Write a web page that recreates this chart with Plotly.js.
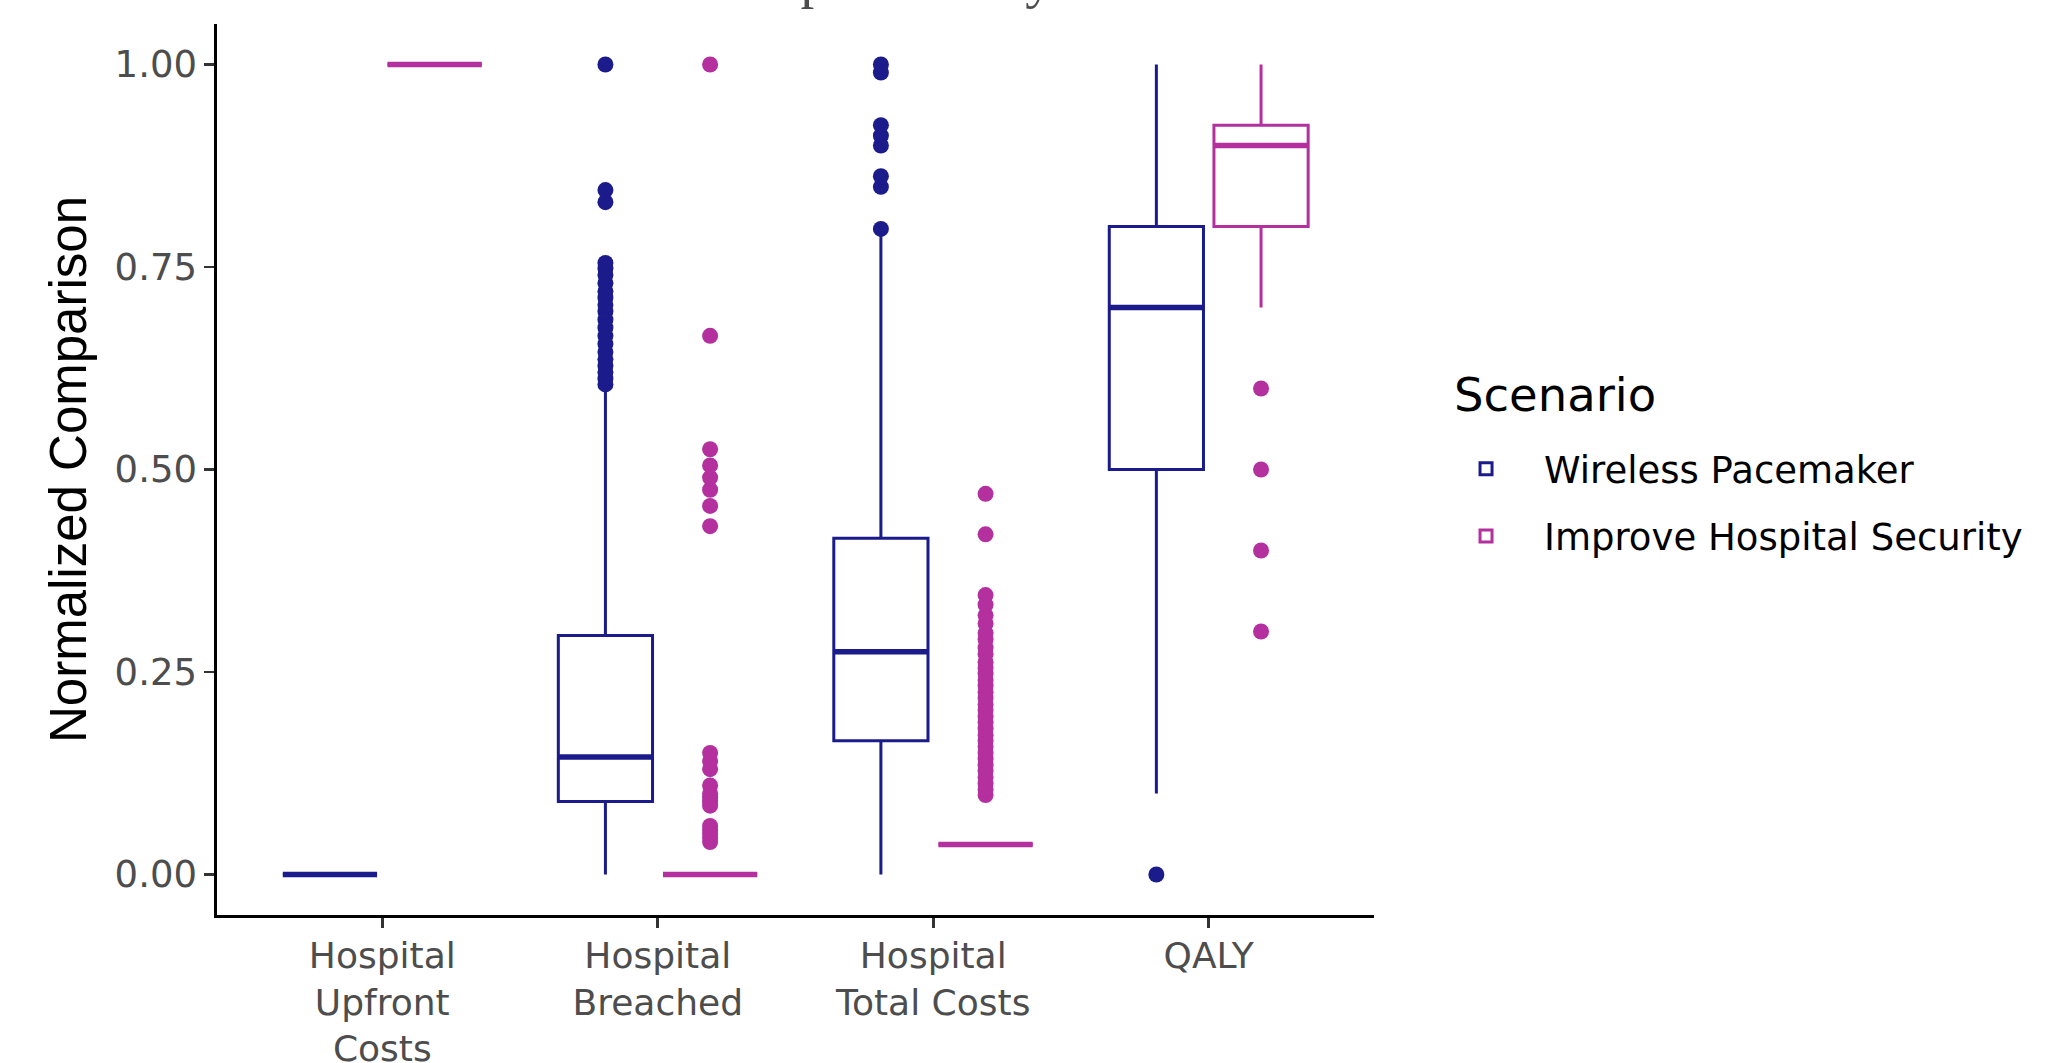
<!DOCTYPE html>
<html>
<head>
<meta charset="utf-8">
<script src="https://cdn.plot.ly/plotly-3.0.1.min.js"></script>
<style>html,body{margin:0;padding:0;background:#fff;}#chart{width:2065px;height:1063px;}</style>
</head>
<body>
<div id="chart"></div>
<script>
// ---- data ----
const categories = ['Hospital Upfront Costs', 'Hospital Breached', 'Hospital Total Costs', 'QALY'];
const tickLabels = ['Hospital<br>Upfront<br>Costs', 'Hospital<br>Breached', 'Hospital<br>Total Costs', 'QALY'];
const scenarios = ['Wireless Pacemaker', 'Improve Hospital Security'];
const legendTitle = 'Scenario';

// Wireless Pacemaker box statistics
const wpQ1 = [0, 0.09, 0.165, 0.5];
const wpMedian = [0, 0.145, 0.275, 0.7];
const wpQ3 = [0, 0.295, 0.415, 0.8];
const wpLower = [0, 0, 0, 0.1];
const wpUpper = [0, 0.60, 0.79, 1.0];
// Wireless Pacemaker outliers
const wpOutUpfront = [];
const wpOutBreached = [0.605, 0.612, 0.62, 0.628, 0.636, 0.645, 0.655, 0.665, 0.675, 0.685, 0.695, 0.703, 0.712, 0.72, 0.73, 0.74, 0.748, 0.755, 0.83, 0.845, 1.0];
const wpOutTotal = [0.797, 0.849, 0.862, 0.90, 0.912, 0.925, 0.99, 1.0];
const wpOutQaly = [0.0];

// Improve Hospital Security box statistics
const hsQ1 = [1, 0, 0.037, 0.8];
const hsMedian = [1, 0, 0.037, 0.9];
const hsQ3 = [1, 0, 0.037, 0.925];
const hsLower = [1, 0, 0.037, 0.7];
const hsUpper = [1, 0, 0.037, 1.0];
// Improve Hospital Security outliers
const hsOutUpfront = [];
const hsOutBreached = [0.04, 0.045, 0.05, 0.055, 0.06, 0.085, 0.09, 0.095, 0.10, 0.11, 0.13, 0.14, 0.15, 0.43, 0.455, 0.475, 0.49, 0.505, 0.525, 0.665, 1.0];
const hsOutTotal = [0.098, 0.105, 0.112, 0.12, 0.128, 0.135, 0.143, 0.15, 0.158, 0.165, 0.172, 0.18, 0.188, 0.195, 0.203, 0.21, 0.218, 0.225, 0.233, 0.24, 0.248, 0.255, 0.262, 0.272, 0.28, 0.29, 0.298, 0.31, 0.32, 0.333, 0.345, 0.42, 0.47];
const hsOutQaly = [0.3, 0.4, 0.5, 0.6];

const yTicks = [0, 0.25, 0.5, 0.75, 1.0];
const yTickText = ['0.00', '0.25', '0.50', '0.75', '1.00'];

// ---- styles ----
const blue = '#1b1b8c';
const magenta = '#b3309e';
const boxLine = 3.0;
const medianLine = 5.5;

function boxTrace(name, color, q1, med, q3, lo, hi, group) {
  return {
    type: 'box',
    name: name,
    legendgroup: group,
    offsetgroup: group,
    x: categories,
    q1: q1, median: med, q3: q3,
    lowerfence: lo, upperfence: hi,
    boxpoints: false,
    whiskerwidth: 0,
    fillcolor: 'rgba(255,255,255,1)',
    line: {color: color, width: boxLine},
    hoverinfo: 'skip'
  };
}

// thicker median bar (ggplot "fatten"), drawn from the median values only
function medianTrace(name, color, med, group) {
  return {
    type: 'box',
    name: name + ' median',
    legendgroup: group,
    offsetgroup: group,
    showlegend: false,
    x: categories,
    q1: med, median: med, q3: med,
    lowerfence: med, upperfence: med,
    boxpoints: false,
    whiskerwidth: 0,
    fillcolor: 'rgba(0,0,0,0)',
    line: {color: color, width: medianLine},
    hoverinfo: 'skip'
  };
}

// outlier points drawn by a box trace whose own box is invisible,
// so the points are dodged exactly like the boxes (same offsetgroup)
function pointTrace(name, color, lists, group) {
  const xs = [], ys = [];
  lists.forEach((lst, i) => lst.forEach(v => { xs.push(categories[i]); ys.push(v); }));
  return {
    type: 'box',
    name: name + ' outliers',
    legendgroup: group,
    offsetgroup: group,
    showlegend: false,
    x: xs, y: ys,
    boxpoints: 'all',
    jitter: 0,
    pointpos: 0,
    whiskerwidth: 0,
    fillcolor: 'rgba(0,0,0,0)',
    line: {color: 'rgba(0,0,0,0)', width: 0},
    marker: {color: color, size: 16, line: {width: 0}},
    hoverinfo: 'skip'
  };
}

const data = [
  pointTrace(scenarios[0], blue, [wpOutUpfront, wpOutBreached, wpOutTotal, wpOutQaly], 'g1'),
  pointTrace(scenarios[1], magenta, [hsOutUpfront, hsOutBreached, hsOutTotal, hsOutQaly], 'g2'),
  boxTrace(scenarios[0], blue, wpQ1, wpMedian, wpQ3, wpLower, wpUpper, 'g1'),
  boxTrace(scenarios[1], magenta, hsQ1, hsMedian, hsQ3, hsLower, hsUpper, 'g2'),
  medianTrace(scenarios[0], blue, wpMedian, 'g1'),
  medianTrace(scenarios[1], magenta, hsMedian, 'g2')
];

const tickFont = {family: 'DejaVu Sans', size: 36, color: '#4d4d4d'};

const layout = {
  width: 2065, height: 1063,
  paper_bgcolor: '#fff', plot_bgcolor: '#fff',
  margin: {l: 217, r: 691, t: 24, b: 148, pad: 0},
  boxmode: 'group',
  boxgap: 0.24,
  boxgroupgap: 0.1,
  showlegend: true,
  xaxis: {
    type: 'category',
    categoryorder: 'array', categoryarray: categories,
    tickvals: categories, ticktext: tickLabels,
    range: [-0.6, 3.6],
    showline: true, linecolor: '#000', linewidth: 2.6,
    ticks: 'outside', ticklen: 10, tickwidth: 2.6, tickcolor: '#333',
    showgrid: false, zeroline: false,
    tickfont: tickFont,
    ticklabelstandoff: -3
  },
  yaxis: {
    range: [-0.05, 1.05],
    tickvals: yTicks, ticktext: yTickText,
    showline: true, linecolor: '#000', linewidth: 2.6,
    ticks: 'outside', ticklen: 10, tickwidth: 2.6, tickcolor: '#333',
    showgrid: false, zeroline: false,
    tickfont: {family: 'DejaVu Sans', size: 37, color: '#4d4d4d'},
    title: {text: 'Normalized Comparison', font: {family: 'Liberation Sans', size: 51, color: '#000'}, standoff: 12}
  },
  legend: {
    x: 1.0467, xanchor: 'left',
    y: 0.535, yanchor: 'top',
    font: {family: 'DejaVu Sans', size: 37, color: '#000'},
    itemwidth: 106,
    tracegroupgap: 16,
    bgcolor: 'rgba(0,0,0,0)'
  },
  annotations: [
    {
      text: legendTitle,
      xref: 'paper', yref: 'paper',
      x: 1.0683, y: 0.5836,
      xanchor: 'left', yanchor: 'middle',
      showarrow: false, borderpad: 0,
      font: {family: 'DejaVu Sans', size: 46.5, color: '#000'}
    },
    {
      text: 'Hospital Policy',
      xref: 'paper', yref: 'paper',
      x: 0.575, y: 1.0157,
      xanchor: 'center', yanchor: 'bottom',
      showarrow: false, borderpad: 0,
      font: {family: 'Liberation Serif', size: 55, color: '#4d4d4d'}
    }
  ]
};

Plotly.newPlot('chart', data, layout, {displayModeBar: false, staticPlot: true});
</script>
</body>
</html>
